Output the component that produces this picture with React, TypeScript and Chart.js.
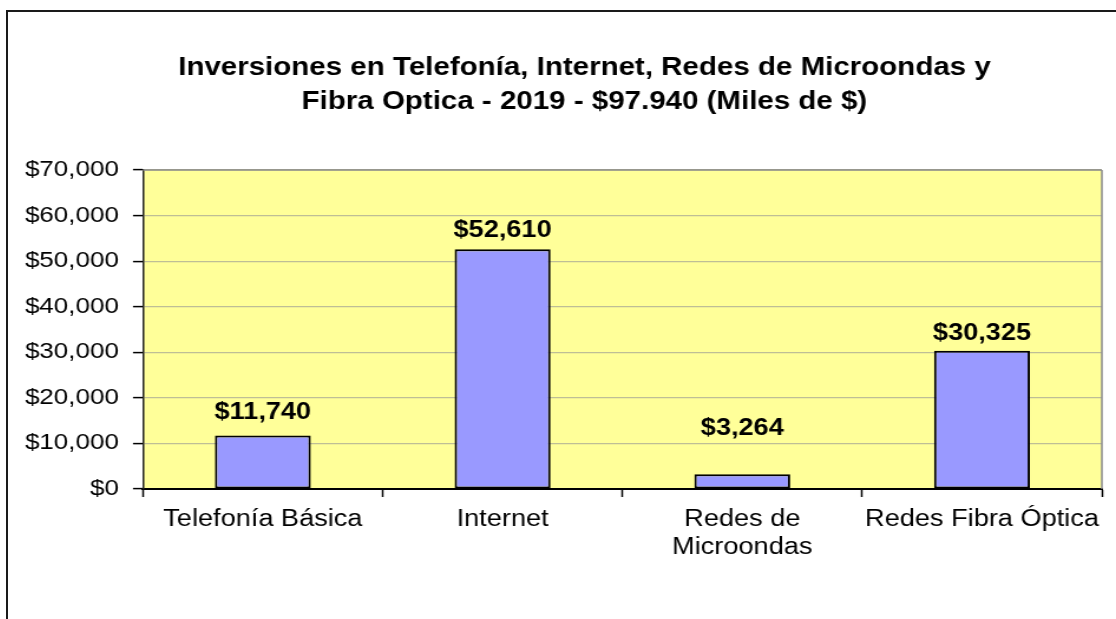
import React, { useEffect, useRef } from "react";
import { Chart, registerables } from "chart.js";

Chart.register(...registerables);

const titleLines = [
  "Inversiones en Telefonía, Internet, Redes de Microondas y",
  "Fibra Optica - 2019 - $97.940 (Miles de $)",
];
const categories: (string | string[])[] = [
  "Telefonía Básica",
  "Internet",
  ["Redes de", "Microondas"],
  "Redes Fibra Óptica",
];
const investments = [11740, 52610, 3264, 30325];
const yMin = 0;
const yMax = 70000;
const yStep = 10000;

const FONT = '"Liberation Sans", Arial, Helvetica, sans-serif';
const STRETCH = 1.18;
const CW = 977;
const CH = 607;

const fmt = (v: number) => "$" + v.toLocaleString("en-US");

const plotBackground = {
  id: "plotBackground",
  beforeDraw(chart: any) {
    const { ctx, chartArea } = chart;
    ctx.save();
    ctx.fillStyle = "#FFFF99";
    ctx.fillRect(chartArea.left, chartArea.top, chartArea.right - chartArea.left, chartArea.bottom - chartArea.top);
    ctx.restore();
  },
  afterDraw(chart: any) {
    const { ctx, chartArea } = chart;
    ctx.save();
    ctx.strokeStyle = "#8a8a8a";
    ctx.lineWidth = 1.5;
    ctx.beginPath();
    ctx.moveTo(chartArea.right, chartArea.top);
    ctx.lineTo(chartArea.right, chartArea.bottom);
    ctx.moveTo(chartArea.left, chartArea.top);
    ctx.lineTo(chartArea.right, chartArea.top);
    ctx.stroke();
    ctx.restore();
  },
};

const chartTitle = {
  id: "chartTitle",
  afterDraw(chart: any, _args: any, opts: any) {
    const { ctx } = chart;
    ctx.save();
    ctx.font = `bold 25px ${FONT}`;
    ctx.fillStyle = "#000";
    ctx.textAlign = "center";
    ctx.textBaseline = "alphabetic";
    (opts.lines as string[]).forEach((line, i) => {
      ctx.fillText(line, opts.centerX, opts.firstBaseline + i * opts.lineGap);
    });
    ctx.restore();
  },
};

const valueLabels = {
  id: "valueLabels",
  afterDatasetsDraw(chart: any, _args: any, opts: any) {
    const { ctx } = chart;
    const meta = chart.getDatasetMeta(0);
    ctx.save();
    ctx.font = `bold 23px ${FONT}`;
    ctx.fillStyle = "#000";
    ctx.textAlign = "center";
    ctx.textBaseline = "alphabetic";
    meta.data.forEach((bar: any, i: number) => {
      const gap = (opts.gaps && opts.gaps[i]) || 12;
      ctx.fillText(fmt(investments[i]), bar.x, bar.y - gap);
    });
    ctx.restore();
  },
};

export default function App() {
  const ref = useRef<HTMLCanvasElement | null>(null);

  useEffect(() => {
    if (!ref.current) return;
    const chart = new Chart(ref.current, {
      type: "bar",
      data: {
        labels: categories,
        datasets: [
          {
            data: investments,
            backgroundColor: "#9999FF",
            borderColor: "#000",
            borderWidth: 2,
            borderSkipped: false,
            barPercentage: 0.4,
            categoryPercentage: 1,
          },
        ],
      },
      options: {
        animation: false,
        responsive: false,
        devicePixelRatio: 1,
        layout: { padding: { left: 0, right: 50, top: 158, bottom: 0 } },
        plugins: {
          legend: { display: false },
          tooltip: { enabled: false },
          title: { display: false },
          chartTitle: { lines: titleLines, centerX: 488.5, firstBaseline: 63, lineGap: 34 },
          valueLabels: { gaps: [16, 12, 39, 11] },
        } as any,
        scales: {
          x: {
            afterFit(scale: any) {
              scale.height = 130;
            },
            grid: {
              display: true,
              offset: true,
              drawOnChartArea: false,
              drawTicks: true,
              tickLength: 8,
              tickColor: "#000",
              tickWidth: 1.5,
            },
            border: { display: true, color: "#000", width: 2 },
            ticks: {
              color: "#000",
              padding: 9,
              maxRotation: 0,
              autoSkip: false,
              font: { family: FONT, size: 23, lineHeight: 1.22 },
            },
          },
          y: {
            min: yMin,
            max: yMax,
            afterFit(scale: any) {
              scale.width = 114.4;
            },
            grid: {
              color: "rgb(190,190,150)",
              lineWidth: 1.2,
              drawTicks: true,
              tickLength: 8.5,
              tickColor: "#000",
              tickWidth: 1.5,
            },
            border: { display: true, color: "#222", width: 1.5 },
            ticks: {
              stepSize: yStep,
              color: "#000",
              padding: 12,
              font: { family: FONT, size: 22 },
              callback: (v: any) => fmt(Number(v)),
            },
          },
        },
      },
      plugins: [plotBackground, valueLabels, chartTitle],
    });
    return () => chart.destroy();
  }, []);

  return (
    <div style={{ position: "fixed", inset: 0, overflow: "hidden", background: "#fff" }}>
      <div
        style={{
          position: "absolute",
          left: 6,
          top: 10,
          width: 1200,
          height: 700,
          border: "2px solid #1a1a1a",
          boxSizing: "border-box",
        }}
      />
      <div
        style={{
          position: "absolute",
          left: 8,
          top: 12,
          width: CW,
          height: CH,
          transform: `scaleX(${STRETCH})`,
          transformOrigin: "0 0",
        }}
      >
        <canvas ref={ref} width={CW} height={CH} style={{ width: CW, height: CH, display: "block" }} />
      </div>
    </div>
  );
}
